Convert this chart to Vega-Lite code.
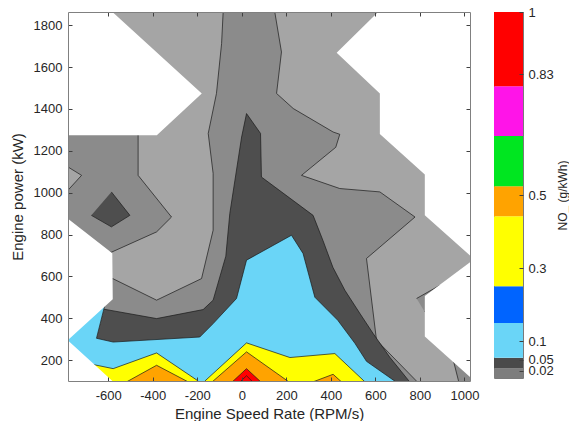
{
  "$schema": "https://vega.github.io/schema/vega-lite/v6.json",
  "padding": {"left": 10, "top": 5, "right": 0, "bottom": 0},
  "background": "white",
  "config": {"view": {"stroke": null}, "font": "Liberation Sans"},
  "spacing": 14,
  "datasets": {
    "p": [
      {"g":"BASE","i":0,"x":-850,"y":80},{"g":"BASE","i":1,"x":1060,"y":80},{"g":"BASE","i":2,"x":1060,"y":1900},{"g":"BASE","i":3,"x":-850,"y":1900},
      {"g":"M1","i":0,"x":-830,"y":1300},{"g":"M1","i":1,"x":-466,"y":1300},{"g":"M1","i":2,"x":-466,"y":1083},{"g":"M1","i":3,"x":-316,"y":884},{"g":"M1","i":4,"x":-383,"y":813},{"g":"M1","i":5,"x":-586,"y":716},{"g":"M1","i":6,"x":-830,"y":716},
      {"g":"M2","i":0,"x":-84,"y":1900},{"g":"M2","i":1,"x":-84,"y":1863},{"g":"M2","i":2,"x":-91,"y":1712},{"g":"M2","i":3,"x":-114,"y":1474},{"g":"M2","i":4,"x":-151,"y":1283},{"g":"M2","i":5,"x":-129,"y":1092},{"g":"M2","i":6,"x":-129,"y":821},{"g":"M2","i":7,"x":-181,"y":590},{"g":"M2","i":8,"x":-383,"y":487},{"g":"M2","i":9,"x":-580,"y":590},{"g":"M2","i":10,"x":-700,"y":500},{"g":"M2","i":11,"x":-830,"y":400},{"g":"M2","i":12,"x":-830,"y":85},{"g":"M2","i":13,"x":799,"y":85},{"g":"M2","i":14,"x":605,"y":296},{"g":"M2","i":15,"x":560,"y":686},{"g":"M2","i":16,"x":778,"y":884},{"g":"M2","i":17,"x":620,"y":1004},{"g":"M2","i":18,"x":440,"y":1020},{"g":"M2","i":19,"x":268,"y":1083},{"g":"M2","i":20,"x":422,"y":1217},{"g":"M2","i":21,"x":440,"y":1279},{"g":"M2","i":22,"x":410,"y":1290},{"g":"M2","i":23,"x":231,"y":1402},{"g":"M2","i":24,"x":156,"y":1474},{"g":"M2","i":25,"x":178,"y":1672},{"g":"M2","i":26,"x":148,"y":1863},{"g":"M2","i":27,"x":148,"y":1900},
      {"g":"NOTCH","i":0,"x":785,"y":495},{"g":"NOTCH","i":1,"x":890,"y":558},{"g":"NOTCH","i":2,"x":822,"y":431},
      {"g":"PATCH","i":0,"x":950,"y":200},{"g":"PATCH","i":1,"x":975,"y":95},{"g":"PATCH","i":2,"x":1060,"y":95},{"g":"PATCH","i":3,"x":1060,"y":200},
      {"g":"HOLE","i":0,"x":-830,"y":1155},{"g":"HOLE","i":1,"x":-720,"y":1083},{"g":"HOLE","i":2,"x":-830,"y":955},
      {"g":"DIA","i":0,"x":-586,"y":1004},{"g":"DIA","i":1,"x":-503,"y":892},{"g":"DIA","i":2,"x":-586,"y":837},{"g":"DIA","i":3,"x":-676,"y":892},
      {"g":"D","i":0,"x":-620,"y":444},{"g":"D","i":1,"x":-383,"y":399},{"g":"D","i":2,"x":-174,"y":442},{"g":"D","i":3,"x":-129,"y":487},{"g":"D","i":4,"x":-72,"y":697},{"g":"D","i":5,"x":-54,"y":901},{"g":"D","i":6,"x":-31,"y":1060},{"g":"D","i":7,"x":-1,"y":1266},{"g":"D","i":8,"x":21,"y":1378},{"g":"D","i":9,"x":84,"y":1283},{"g":"D","i":10,"x":88,"y":1075},{"g":"D","i":11,"x":320,"y":892},{"g":"D","i":12,"x":364,"y":773},{"g":"D","i":13,"x":409,"y":644},{"g":"D","i":14,"x":463,"y":534},{"g":"D","i":15,"x":530,"y":424},{"g":"D","i":16,"x":589,"y":329},{"g":"D","i":17,"x":665,"y":214},{"g":"D","i":18,"x":763,"y":85},{"g":"D","i":19,"x":-660,"y":85},{"g":"D","i":20,"x":-653,"y":305},
      {"g":"LB","i":0,"x":-818,"y":272},{"g":"LB","i":1,"x":-610,"y":487},{"g":"LB","i":2,"x":-653,"y":305},{"g":"LB","i":3,"x":-578,"y":287},{"g":"LB","i":4,"x":-189,"y":311},{"g":"LB","i":5,"x":-129,"y":375},{"g":"LB","i":6,"x":-24,"y":495},{"g":"LB","i":7,"x":21,"y":678},{"g":"LB","i":8,"x":223,"y":797},{"g":"LB","i":9,"x":275,"y":710},{"g":"LB","i":10,"x":328,"y":501},{"g":"LB","i":11,"x":431,"y":391},{"g":"LB","i":12,"x":508,"y":281},{"g":"LB","i":13,"x":560,"y":195},{"g":"LB","i":14,"x":708,"y":85},{"g":"LB","i":15,"x":-818,"y":85},
      {"g":"Y1","i":0,"x":-674,"y":181},{"g":"Y1","i":1,"x":-578,"y":160},{"g":"Y1","i":2,"x":-383,"y":235},{"g":"Y1","i":3,"x":-196,"y":101},{"g":"Y1","i":4,"x":-196,"y":85},{"g":"Y1","i":5,"x":-674,"y":85},
      {"g":"Y2","i":0,"x":-166,"y":85},{"g":"Y2","i":1,"x":-166,"y":101},{"g":"Y2","i":2,"x":21,"y":283},{"g":"Y2","i":3,"x":216,"y":213},{"g":"Y2","i":4,"x":418,"y":232},{"g":"Y2","i":5,"x":565,"y":85},
      {"g":"O1","i":0,"x":-538,"y":85},{"g":"O1","i":1,"x":-383,"y":176},{"g":"O1","i":2,"x":-220,"y":85},
      {"g":"O2","i":0,"x":-146,"y":85},{"g":"O2","i":1,"x":21,"y":240},{"g":"O2","i":2,"x":227,"y":85},
      {"g":"O3","i":0,"x":290,"y":85},{"g":"O3","i":1,"x":410,"y":133},{"g":"O3","i":2,"x":460,"y":85},
      {"g":"R","i":0,"x":-55,"y":85},{"g":"R","i":1,"x":21,"y":160},{"g":"R","i":2,"x":97,"y":85},
      {"g":"R2","i":0,"x":-20,"y":85},{"g":"R2","i":1,"x":21,"y":126},{"g":"R2","i":2,"x":60,"y":85},
      {"g":"W1","i":0,"x":-830,"y":1900},{"g":"W1","i":1,"x":-580,"y":1900},{"g":"W1","i":2,"x":-580,"y":1862},{"g":"W1","i":3,"x":-180,"y":1474},{"g":"W1","i":4,"x":-382,"y":1274},{"g":"W1","i":5,"x":-830,"y":1274},
      {"g":"W23","i":0,"x":-830,"y":877},{"g":"W23","i":1,"x":-782,"y":877},{"g":"W23","i":2,"x":-582,"y":711},{"g":"W23","i":3,"x":-580,"y":491},{"g":"W23","i":4,"x":-782,"y":295.5},{"g":"W23","i":5,"x":-565,"y":85},{"g":"W23","i":6,"x":-830,"y":85},
      {"g":"W4","i":0,"x":611,"y":1900},{"g":"W4","i":1,"x":611,"y":1862},{"g":"W4","i":2,"x":426,"y":1668},{"g":"W4","i":3,"x":620,"y":1474},{"g":"W4","i":4,"x":620,"y":1280},{"g":"W4","i":5,"x":822,"y":1087},{"g":"W4","i":6,"x":822,"y":893},{"g":"W4","i":7,"x":1025,"y":700},{"g":"W4","i":8,"x":1060,"y":700},{"g":"W4","i":9,"x":1060,"y":1900},
      {"g":"W5","i":0,"x":1060,"y":668},{"g":"W5","i":1,"x":1025,"y":668},{"g":"W5","i":2,"x":822,"y":507},{"g":"W5","i":3,"x":822,"y":313},{"g":"W5","i":4,"x":1060,"y":87}
    ],
    "cb": [
      {"lo":0,"hi":0.027,"c":"a"},
      {"lo":0.027,"hi":0.055,"c":"b"},
      {"lo":0.055,"hi":0.15,"c":"c"},
      {"lo":0.15,"hi":0.251,"c":"d"},
      {"lo":0.251,"hi":0.442,"c":"e"},
      {"lo":0.442,"hi":0.524,"c":"f"},
      {"lo":0.524,"hi":0.661,"c":"g"},
      {"lo":0.661,"hi":0.797,"c":"h"},
      {"lo":0.797,"hi":1,"c":"i"}
    ]
  },
  "hconcat": [
    {
      "width": 402,
      "height": 369,
      "data": {"name": "p"},
      "encoding": {
        "x": {"field": "x", "type": "quantitative", "scale": {"domain": [-781, 1025], "nice": false, "zero": false}, "axis": null},
        "y": {"field": "y", "type": "quantitative", "scale": {"domain": [101, 1863], "nice": false, "zero": false}, "axis": null},
        "order": {"field": "i", "type": "quantitative"},
        "detail": {"field": "g", "type": "nominal"}
      },
      "layer": [
        {
          "transform": [{"filter": {"field": "g", "oneOf": ["BASE"]}}],
          "mark": {"type": "line", "filled": true, "fill": "#a5a5a5", "strokeWidth": 0, "clip": true},
          "encoding": {
            "x": {"field": "x", "type": "quantitative", "scale": {"domain": [-781, 1025], "nice": false, "zero": false},
              "axis": {"orient": "bottom", "values": [-600, -400, -200, 0, 200, 400, 600, 800, 1000], "labelExpr": "datum.value + ''", "title": "Engine Speed Rate (RPM/s)", "tickSize": -4, "labelPadding": 12, "labelFlush": false, "labelOverlap": false, "grid": false, "zindex": 1, "domainColor": "#808080", "tickColor": "#404040", "labelColor": "#262626", "labelFontSize": 13, "titleFontSize": 15, "titleFontWeight": "normal", "titleColor": "#262626", "titlePadding": 4}},
            "y": {"field": "y", "type": "quantitative", "scale": {"domain": [101, 1863], "nice": false, "zero": false},
              "axis": {"orient": "left", "values": [200, 400, 600, 800, 1000, 1200, 1400, 1600, 1800], "labelExpr": "datum.value + ''", "title": "Engine power (kW)", "tickSize": -4, "labelPadding": 10, "labelFlush": false, "labelOverlap": false, "grid": false, "zindex": 1, "domainColor": "#808080", "tickColor": "#404040", "labelColor": "#262626", "labelFontSize": 13, "titleFontSize": 15, "titleFontWeight": "normal", "titleColor": "#262626", "titlePadding": 8}}
          }
        },
        {
          "transform": [{"filter": {"field": "g", "oneOf": ["M1", "M2", "NOTCH", "PATCH"]}}],
          "mark": {"type": "line", "filled": true, "fill": "#8b8b8b", "stroke": "#1a1a1a", "strokeWidth": 0.7, "clip": true}
        },
        {
          "transform": [{"filter": {"field": "g", "oneOf": ["HOLE"]}}],
          "mark": {"type": "line", "filled": true, "fill": "#a5a5a5", "stroke": "#1a1a1a", "strokeWidth": 0.7, "clip": true}
        },
        {
          "transform": [{"filter": {"field": "g", "oneOf": ["DIA", "D"]}}],
          "mark": {"type": "line", "filled": true, "fill": "#4e4e4e", "stroke": "#1a1a1a", "strokeWidth": 0.7, "clip": true}
        },
        {
          "transform": [{"filter": {"field": "g", "oneOf": ["LB"]}}],
          "mark": {"type": "line", "filled": true, "fill": "#6ad5f7", "stroke": "#1a1a1a", "strokeWidth": 0.7, "clip": true}
        },
        {
          "transform": [{"filter": {"field": "g", "oneOf": ["Y1", "Y2"]}}],
          "mark": {"type": "line", "filled": true, "fill": "#ffff00", "stroke": "#1a1a1a", "strokeWidth": 0.7, "clip": true}
        },
        {
          "transform": [{"filter": {"field": "g", "oneOf": ["O1", "O2", "O3"]}}],
          "mark": {"type": "line", "filled": true, "fill": "#ffa300", "stroke": "#1a1a1a", "strokeWidth": 0.7, "clip": true}
        },
        {
          "transform": [{"filter": {"field": "g", "oneOf": ["R", "R2"]}}],
          "mark": {"type": "line", "filled": true, "fill": "#ff0000", "stroke": "#1a1a1a", "strokeWidth": 0.7, "clip": true}
        },
        {
          "transform": [{"filter": {"field": "g", "oneOf": ["W1", "W23", "W4", "W5"]}}],
          "mark": {"type": "line", "filled": true, "fill": "#ffffff", "strokeWidth": 0, "clip": true},
          "encoding": {
            "x": {"field": "x", "type": "quantitative", "scale": {"domain": [-781, 1025], "nice": false, "zero": false},
              "axis": {"orient": "top", "values": [-600, -400, -200, 0, 200, 400, 600, 800, 1000], "labels": false, "title": null, "tickSize": -4, "grid": false, "zindex": 1, "domainColor": "#808080", "tickColor": "#404040"}},
            "y": {"field": "y", "type": "quantitative", "scale": {"domain": [101, 1863], "nice": false, "zero": false},
              "axis": {"orient": "right", "values": [200, 400, 600, 800, 1000, 1200, 1400, 1600, 1800], "labels": false, "title": null, "tickSize": -4, "grid": false, "zindex": 1, "domainColor": "#808080", "tickColor": "#404040"}}
          }
        }
      ],
      "resolve": {"axis": {"x": "independent", "y": "independent"}}
    },
    {
      "width": 29,
      "height": 366,
      "view": {"stroke": "#7a7a7a", "strokeWidth": 1},
      "data": {"name": "cb"},
      "mark": {"type": "rect"},
      "encoding": {
        "y": {"field": "lo", "type": "quantitative", "scale": {"domain": [0, 1], "nice": false, "zero": false},
          "axis": {"orient": "right", "values": [0.02, 0.05, 0.1, 0.3, 0.5, 0.83, 1], "labelExpr": "datum.value + ''", "tickSize": -4, "labelPadding": 9, "labelFlush": false, "labelOverlap": false, "domain": false, "grid": false, "zindex": 1, "tickColor": "#404040", "labelColor": "#262626", "labelFontSize": 13, "title": "NO_ (g/kWh)", "titleAngle": -90, "titleFontSize": 12, "titleFontWeight": "normal", "titleColor": "#262626", "titlePadding": 16}},
        "y2": {"field": "hi"},
        "color": {"field": "c", "type": "nominal", "legend": null,
          "scale": {"domain": ["a", "b", "c", "d", "e", "f", "g", "h", "i"], "range": ["#7d7d7d", "#4a4a4a", "#6ad5f7", "#0064ff", "#ffff00", "#ffa300", "#00e620", "#ff14e8", "#ff0000"]}}
      }
    }
  ]
}
